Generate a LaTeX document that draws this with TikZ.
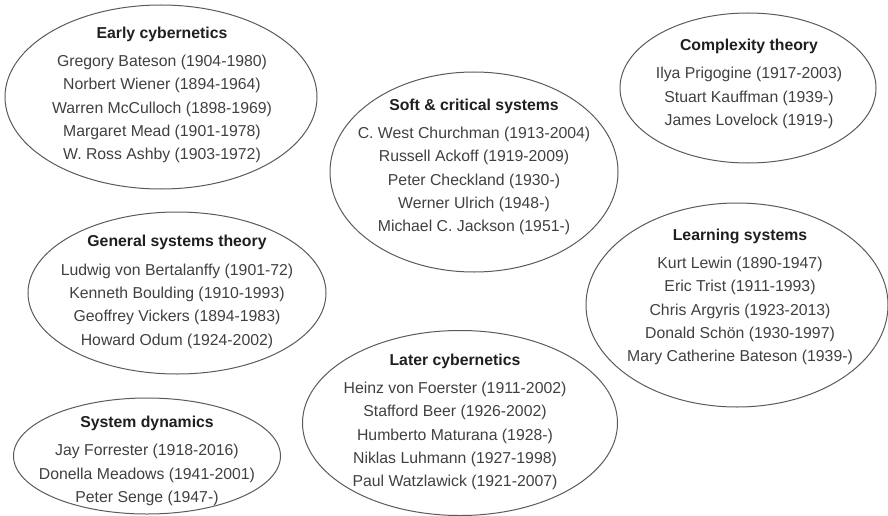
\documentclass[tikz,border=0pt]{standalone}
\usepackage{fontspec}
\setmainfont{Liberation Sans}
\usetikzlibrary{shapes.geometric}

\definecolor{rimgray}{HTML}{5A5A5A}
\definecolor{namegray}{HTML}{404040}
\newcommand{\schooltitle}[1]{{\color{black!88}\bfseries #1}\\[5pt]}

\begin{document}
\begin{tikzpicture}[x=1pt,y=-1pt,
    school/.style={ellipse,draw=rimgray,line width=1pt,inner sep=0pt},
    roster/.style={align=center,text=namegray,inner sep=0pt,
      font=\fontsize{15.8}{23.3}\selectfont}]
   \useasboundingbox (0,0) rectangle (888,516);
   % the seven schools
   \node[school,minimum width=312pt,minimum height=184pt] (early)  at (161,97)  {};
   \node[school,minimum width=256pt,minimum height=150pt] (cplx)   at (748,88)  {};
   \node[school,minimum width=288pt,minimum height=200pt] (soft)   at (474,172) {};
   \node[school,minimum width=298pt,minimum height=162pt] (gst)    at (177,293) {};
   \node[school,minimum width=302pt,minimum height=204pt] (learn)  at (737,305) {};
   \node[school,minimum width=315pt,minimum height=185pt] (later)  at (460,423) {};
   \node[school,minimum width=267pt,minimum height=116pt] (dyn)    at (147,456) {};
   % names inside
   \node[roster] (earlytext) at (162,95) {\schooltitle{Early cybernetics}
      Gregory Bateson (1904-1980)\\ Norbert Wiener (1894-1964)\\
      Warren McCulloch (1898-1969)\\ Margaret Mead (1901-1978)\\
      W. Ross Ashby (1903-1972)};
   \node[roster] (cplxtext) at (749,84) {\schooltitle{Complexity theory}
      Ilya Prigogine (1917-2003)\\ Stuart Kauffman (1939-)\\
      James Lovelock (1919-)};
   \node[roster] (softtext) at (474,167) {\schooltitle{Soft \& critical systems}
      C. West Churchman (1913-2004)\\ Russell Ackoff (1919-2009)\\
      Peter Checkland (1930-)\\ Werner Ulrich (1948-)\\
      Michael C. Jackson (1951-)};
   \node[roster] (gsttext) at (177,292) {\schooltitle{General systems theory}
      Ludwig von Bertalanffy (1901-72)\\ Kenneth Boulding (1910-1993)\\
      Geoffrey Vickers (1894-1983)\\ Howard Odum (1924-2002)};
   \node[roster] (learntext) at (740,297) {\schooltitle{Learning systems}
      Kurt Lewin (1890-1947)\\ Eric Trist (1911-1993)\\
      Chris Argyris (1923-2013)\\ Donald Schön (1930-1997)\\
      Mary Catherine Bateson (1939-)};
   \node[roster] (latertext) at (455,422) {\schooltitle{Later cybernetics}
      Heinz von Foerster (1911-2002)\\ Stafford Beer (1926-2002)\\
      Humberto Maturana (1928-)\\ Niklas Luhmann (1927-1998)\\
      Paul Watzlawick (1921-2007)};
   \node[roster] (dyntext) at (147,461) {\schooltitle{System dynamics}
      Jay Forrester (1918-2016)\\ Donella Meadows (1941-2001)\\
      Peter Senge (1947-)};
\end{tikzpicture}
\end{document}
